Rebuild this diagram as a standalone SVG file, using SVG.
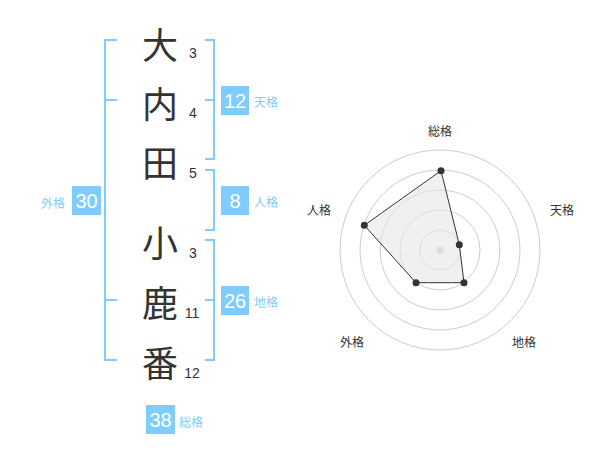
<svg xmlns="http://www.w3.org/2000/svg" width="600" height="470" viewBox="0 0 600 470">
<style>
.big{font-family:"Noto Sans CJK JP","Noto Sans CJK SC",sans-serif;font-size:36px;fill:#333;text-anchor:middle;dominant-baseline:central}
.num{font-family:"Liberation Sans",Arial,sans-serif;font-size:14px;fill:#333;text-anchor:middle;dominant-baseline:central}
.br{fill:none;stroke:#80ccff;stroke-width:2}
.box{fill:#80ccff}
.bn{font-family:"Liberation Sans",Arial,sans-serif;font-size:20px;fill:#fff;text-anchor:middle;dominant-baseline:central}
.lab{font-family:"Noto Sans CJK JP",sans-serif;font-size:12px;fill:#80ccff;dominant-baseline:central}
.rl{font-family:"Noto Sans CJK JP",sans-serif;font-size:12px;fill:#333;text-anchor:middle;dominant-baseline:central}
.ring{fill:none;stroke:#ccc;stroke-width:1}
.pt{fill:#333}
</style>
<rect width="600" height="470" fill="#fff"/>
<g id="chars">
<text class="big" x="160" y="43">大</text>
<text class="big" x="160" y="102">内</text>
<text class="big" x="160" y="161">田</text>
<text class="big" x="160" y="241">小</text>
<text class="big" x="160" y="301">鹿</text>
<text class="big" x="160" y="361">番</text>
<text class="num" x="193" y="53">3</text>
<text class="num" x="193" y="113">4</text>
<text class="num" x="193" y="173">5</text>
<text class="num" x="193" y="253">3</text>
<text class="num" x="192" y="313">11</text>
<text class="num" x="192" y="373">12</text>
</g>
<g id="connectors">
<path class="br" d="M117,40 H105 V360 H117 M105,100 H117 M105,300 H117"/>
<path class="br" d="M205,40 H214 V159 H205 M205,100 H214"/>
<path class="br" d="M205,170 H214 V230 H205"/>
<path class="br" d="M205,240 H214 V360 H205 M205,300 H214"/>
</g>
<g id="tenkaku">
<rect class="box" x="221" y="86" width="28" height="29"/>
<text class="bn" x="235" y="101">12</text>
<text class="lab" x="254" y="101">天格</text>
</g>
<g id="jinkaku">
<rect class="box" x="221" y="186" width="28" height="29"/>
<text class="bn" x="235" y="201">8</text>
<text class="lab" x="254" y="201">人格</text>
</g>
<g id="chikaku">
<rect class="box" x="221" y="286" width="28" height="29"/>
<text class="bn" x="235" y="301">26</text>
<text class="lab" x="254" y="301">地格</text>
</g>
<g id="gaikaku">
<rect class="box" x="72" y="186" width="29" height="29"/>
<text class="bn" x="86.5" y="201">30</text>
<text class="lab" x="41" y="202">外格</text>
</g>
<g id="soukaku">
<rect class="box" x="146" y="405" width="29" height="29"/>
<text class="bn" x="160.5" y="420">38</text>
<text class="lab" x="179" y="421">総格</text>
</g>
<g id="radar">
<circle class="ring" cx="440" cy="250" r="20"/>
<circle class="ring" cx="440" cy="250" r="40"/>
<circle class="ring" cx="440" cy="250" r="60"/>
<circle class="ring" cx="440" cy="250" r="80"/>
<circle class="ring" cx="440" cy="250" r="100"/>
<circle cx="440" cy="250" r="3.5" fill="#ccc"/>
<polygon points="441,170.7 459.3,244.7 464,282.7 416,282.7 364.3,225.3" fill="#e6e6e6" fill-opacity="0.6" stroke="#333" stroke-width="1"/>
<circle class="pt" cx="441" cy="170.7" r="3.5"/>
<circle class="pt" cx="459.3" cy="244.7" r="3.5"/>
<circle class="pt" cx="464" cy="282.7" r="3.5"/>
<circle class="pt" cx="416" cy="282.7" r="3.5"/>
<circle class="pt" cx="364.3" cy="225.3" r="3.5"/>
<text class="rl" x="440" y="130">総格</text>
<text class="rl" x="562" y="209">天格</text>
<text class="rl" x="524" y="341">地格</text>
<text class="rl" x="352" y="341">外格</text>
<text class="rl" x="319" y="209">人格</text>
</g>
</svg>
